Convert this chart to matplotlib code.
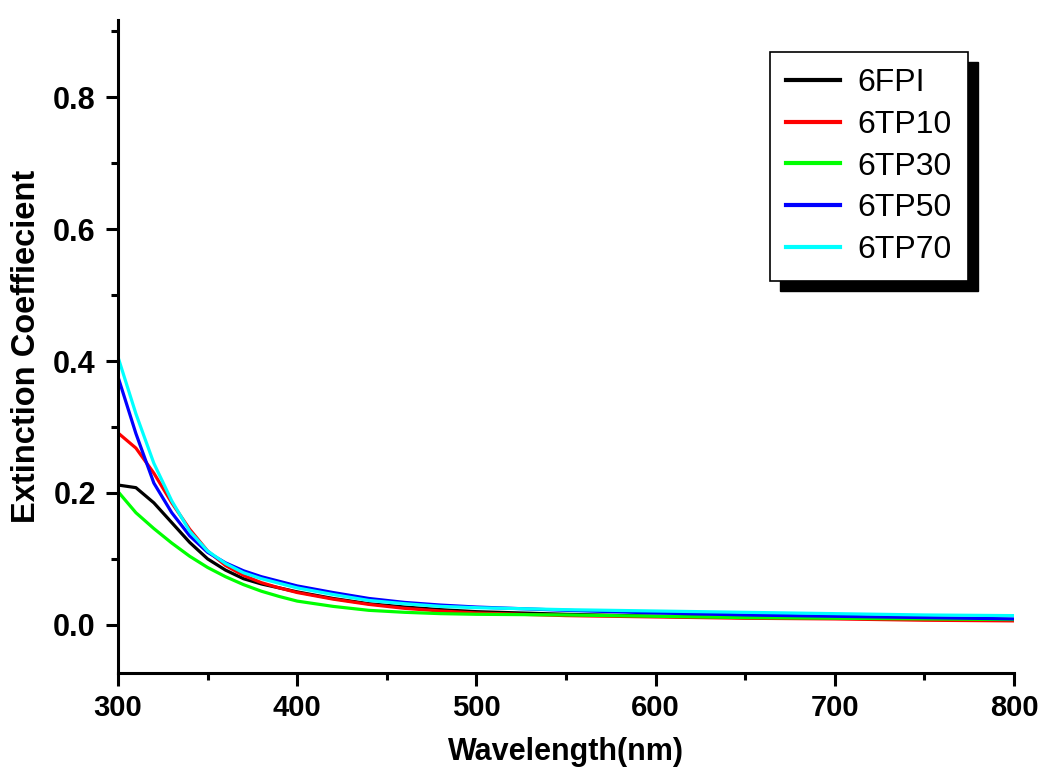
import numpy as np
import matplotlib
matplotlib.use('Agg')
import matplotlib.pyplot as plt
from matplotlib.patches import Rectangle
from matplotlib.ticker import MultipleLocator

plt.rcParams['font.family'] = ['Liberation Sans', 'DejaVu Sans']

wavelength = [300, 310, 320, 330, 340, 350, 360, 370, 380, 390, 400,
              420, 440, 460, 480, 500, 550, 600, 650, 700, 750, 800]

k_6fpi = [0.212, 0.208, 0.185, 0.155, 0.125, 0.100, 0.083, 0.070, 0.062, 0.056, 0.050,
          0.040, 0.032, 0.027, 0.023, 0.020, 0.016, 0.013, 0.011, 0.010, 0.009, 0.008]
k_6tp10 = [0.291, 0.268, 0.230, 0.185, 0.145, 0.112, 0.090, 0.075, 0.064, 0.056, 0.049,
           0.039, 0.031, 0.025, 0.021, 0.018, 0.014, 0.012, 0.010, 0.009, 0.007, 0.006]
k_6tp30 = [0.202, 0.170, 0.146, 0.124, 0.104, 0.087, 0.073, 0.061, 0.051, 0.043, 0.036,
           0.028, 0.022, 0.019, 0.017, 0.016, 0.015, 0.013, 0.011, 0.010, 0.009, 0.008]
k_6tp50 = [0.376, 0.290, 0.215, 0.170, 0.135, 0.110, 0.094, 0.082, 0.073, 0.066, 0.059,
           0.049, 0.040, 0.034, 0.030, 0.027, 0.022, 0.018, 0.015, 0.013, 0.011, 0.009]
k_6tp70 = [0.406, 0.320, 0.245, 0.188, 0.142, 0.112, 0.093, 0.079, 0.070, 0.063, 0.056,
           0.046, 0.037, 0.032, 0.028, 0.026, 0.023, 0.021, 0.019, 0.017, 0.015, 0.014]

series = [('6FPI', k_6fpi, '#000000'),
          ('6TP10', k_6tp10, '#ff0000'),
          ('6TP30', k_6tp30, '#00ff00'),
          ('6TP50', k_6tp50, '#0000ff'),
          ('6TP70', k_6tp70, '#00ffff')]

fig = plt.figure(figsize=(10.42, 7.72), dpi=100)
ax = fig.add_axes([118/1042, 99/772, 896/1042, 653/772])

for name, vals, col in series:
    ax.plot(wavelength, vals, color=col, linewidth=2.3, label=name)

ax.set_xlim(300, 800)
ax.set_ylim(-0.073, 0.917)
ax.xaxis.set_major_locator(MultipleLocator(100))
ax.xaxis.set_minor_locator(MultipleLocator(50))
ax.yaxis.set_major_locator(MultipleLocator(0.2))
ax.yaxis.set_minor_locator(MultipleLocator(0.1))
ax.yaxis.set_major_formatter(matplotlib.ticker.FormatStrFormatter('%.1f'))

for s in ['top', 'right']:
    ax.spines[s].set_visible(False)
for s in ['left', 'bottom']:
    ax.spines[s].set_linewidth(2.2)

ax.tick_params(which='major', direction='out', length=9, width=2.2)
ax.tick_params(which='minor', direction='out', length=5, width=2.2)
ax.tick_params(axis='y', labelsize=22, pad=7)
ax.tick_params(axis='x', labelsize=21, pad=6)
for lbl in ax.get_yticklabels() + ax.get_xticklabels():
    lbl.set_fontweight('bold')

ax.set_xlabel('Wavelength(nm)', fontsize=22, fontweight='bold', labelpad=11)
ax.set_ylabel('Extinction Coeffiecient', fontsize=23.5, fontweight='bold', labelpad=8)

leg = ax.legend(loc='upper left', bbox_to_anchor=(0.7277, 0.951), fontsize=23,
                frameon=True, fancybox=False, edgecolor='black', framealpha=1,
                handlelength=1.7, handletextpad=0.55, labelspacing=0.37,
                borderpad=0.5, borderaxespad=0)
leg.get_frame().set_linewidth(1.2)
leg.set_zorder(6)
for line in leg.get_lines():
    line.set_linewidth(3)

# shadow behind the legend box, offset 10 px right and down
fig.canvas.draw()
bb = leg.get_window_extent().transformed(ax.transAxes.inverted())
dx = 10 / 896
dy = 10 / 653
ax.add_patch(Rectangle((bb.x0 + dx, bb.y0 - dy), bb.width, bb.height, transform=ax.transAxes,
                       facecolor='black', edgecolor='black', zorder=5, clip_on=False))

fig.savefig('out.png', dpi=100)
